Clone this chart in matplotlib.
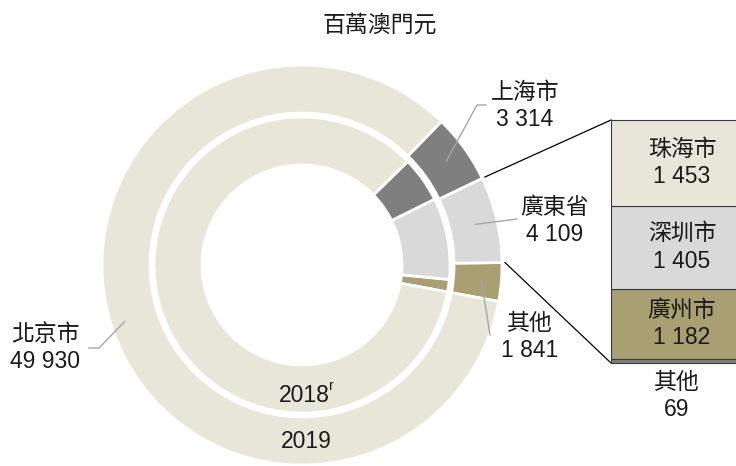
import numpy as np
import matplotlib
matplotlib.use('Agg')
import matplotlib.pyplot as plt

plt.rcParams['font.family'] = ['Liberation Sans', 'Noto Sans CJK TC']
plt.rcParams['font.size'] = 16.5

# data (millions MOP)
regions = ['其他', '廣東省', '上海市', '北京市']
values_2019 = [1841, 4109, 3314, 49930]
values_2018 = [680, 4450, 2500, 42400]   # not labelled, read from angles
colors = ['#A89F72', '#D9D9D9', '#7F7F7F', '#E8E6D9']

gd_cities = ['其他', '廣州市', '深圳市', '珠海市']
gd_values = [69, 1182, 1405, 1453]
gd_colors = ['#7F7F7F', '#A89F72', '#D9D9D9', '#E8E6D9']

W, H = 736, 466
START = -10.5


def fmt(v):
    return f'{v:,}'.replace(',', ' ')


def px(x, y):
    return x, H - y


def polar(center, r, deg):
    a = np.deg2rad(deg)
    return center[0] + r * np.cos(a), center[1] + r * np.sin(a)


fig = plt.figure(figsize=(W / 100, H / 100), dpi=100)
ax = fig.add_axes([0, 0, 1, 1])

center = px(302, 265)
wp = dict(width=48, edgecolor='white', linewidth=2)
ax.pie(values_2019, colors=colors, radius=200, center=center,
       startangle=START, counterclock=True, wedgeprops=wp)
ax.pie(values_2018, colors=colors, radius=148, center=center,
       startangle=START, counterclock=True, wedgeprops=wp)
ax.set_xlim(0, W)
ax.set_ylim(0, H)
ax.set_aspect('equal')
ax.axis('off')

# wedge angles of the outer ring
bounds = START + 360 * np.concatenate([[0], np.cumsum(values_2019)]) / sum(values_2019)
mids = (bounds[:-1] + bounds[1:]) / 2

# stacked bar for 廣東省
bar_top, bar_bot, bar_left = 120, 363, 611
bax = fig.add_axes([bar_left / W, (H - bar_bot) / H, (W - bar_left + 20) / W,
                    (bar_bot - bar_top) / H])
bottoms = np.concatenate([[0], np.cumsum(gd_values)[:-1]])
bars = bax.bar(0, gd_values, bottom=bottoms, width=1, align='edge',
               color=gd_colors, edgecolor='#3a3a3a', linewidth=0.8)
for b in bars:
    b.set_clip_on(False)
bax.set_xlim(0, 1)
bax.set_ylim(0, sum(gd_values))
bax.axis('off')
for name, v, b in zip(gd_cities[1:], gd_values[1:], bottoms[1:]):
    bax.text(0.49, b + v / 2, f'{name}\n{fmt(v)}', ha='center', va='center',
             linespacing=1.25, color='#1a1a1a')
ax.text(677, H - 396, f'{gd_cities[0]}\n{fmt(gd_values[0])}', ha='center',
        va='center', linespacing=1.25, color='#1a1a1a')

# connectors from 廣東省 wedge to the bar
for ang, (bx, by) in [(bounds[2], px(bar_left, bar_top)),
                      (bounds[1], px(bar_left, bar_bot))]:
    x0, y0 = polar(center, 203, ang)
    ax.plot([x0, bx], [y0, by], color='black', lw=0.9)

# leader lines and labels
lc = '#A6A6A6'
x0, y0 = polar(center, 178, mids[2])
ax.plot([x0, 477, 486], [y0, H - 105, H - 105], color=lc, lw=1)
ax.text(525, H - 106, f'{regions[2]}\n{fmt(values_2019[2])}', ha='center',
        va='center', linespacing=1.25, color='#1a1a1a')

x0, y0 = polar(center, 178, mids[1])
ax.plot([x0, 517], [y0, H - 219], color=lc, lw=1)
ax.text(555, H - 221, f'{regions[1]}\n{fmt(values_2019[1])}', ha='center',
        va='center', linespacing=1.25, color='#1a1a1a')

x0, y0 = polar(center, 180, mids[0])
ax.plot([x0, 490], [y0, H - 335], color=lc, lw=1)
ax.text(530, H - 337, f'{regions[0]}\n{fmt(values_2019[0])}', ha='center',
        va='center', linespacing=1.25, color='#1a1a1a')

x0, y0 = polar(center, 186, mids[3])
ax.plot([x0, 99, 89], [y0, H - 348, H - 348], color=lc, lw=1)
ax.text(45, H - 348, f'{regions[3]}\n{fmt(values_2019[3])}', ha='center',
        va='center', linespacing=1.25, color='#1a1a1a')

# ring labels and title
ax.text(304, H - 396, '2018', ha='center', va='center', color='#1a1a1a')
ax.text(329, H - 386, 'r', ha='left', va='center', fontsize=10, color='#1a1a1a')
ax.text(306, H - 441, '2019', ha='center', va='center', color='#1a1a1a')
ax.text(380, H - 25, '百萬澳門元', ha='center', va='center', color='#1a1a1a')

fig.savefig('out.png', dpi=100)
